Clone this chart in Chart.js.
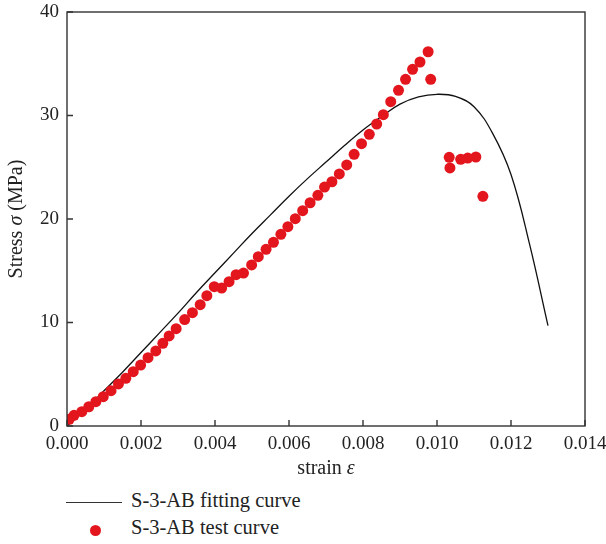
<!DOCTYPE html>
<html lang="en">
<head>
<meta charset="UTF-8" />
<title>S-3-AB stress-strain</title>
<style>
  body{margin:0;background:#fff;font-family:"Liberation Serif",serif}
  #wrap{position:relative;width:606px;height:544px}
  #cv{position:absolute;left:0;top:0}
  .leg{position:absolute;left:131px;font-size:20.5px;color:#222;line-height:normal;white-space:nowrap}
  .ln{position:absolute;left:66px;top:502px;width:56px;border-top:1.4px solid #333}
  .dot{position:absolute;left:89.5px;top:524.5px;width:11px;height:11px;border-radius:50%;background:#e3161e}
</style>
<script src="https://cdn.jsdelivr.net/npm/chart.js"></script>
</head>
<body>
<div id="wrap">
  <canvas id="cv" width="606" height="482"></canvas>
  <div class="ln"></div><div class="leg" style="top:489px">S-3-AB fitting curve</div>
  <div class="dot"></div><div class="leg" style="top:516px">S-3-AB test curve</div>
</div>
<script>
// test points (strain, stress MPa)
const testStrain=[0.00006,0.00019,0.00040,0.00059,0.00078,0.00098,0.00119,0.00139,0.00159,0.00179,
  0.00199,0.00219,0.00240,0.00259,0.00276,0.00295,0.00318,0.00339,0.00360,0.00378,
  0.00398,0.00418,0.00438,0.00457,0.00477,0.00499,0.00517,0.00538,0.00558,0.00578,
  0.00597,0.00617,0.00637,0.00657,0.00678,0.00696,0.00716,0.00736,0.00756,0.00776,
  0.00796,0.00817,0.00837,0.00855,0.00875,0.00896,0.00915,0.00934,0.00954,0.00976,
  0.00983,0.01033,0.01035,0.01064,0.01083,0.01105,0.01124];
const testStress=[0.65,1.03,1.38,1.86,2.35,2.83,3.41,4.06,4.61,5.25,
  5.89,6.60,7.25,7.99,8.70,9.40,10.28,10.95,11.72,12.59,
  13.46,13.33,13.94,14.62,14.78,15.56,16.36,17.07,17.75,18.52,
  19.26,20.03,20.80,21.57,22.29,23.09,23.60,24.35,25.22,26.25,
  27.28,28.18,29.18,30.08,31.33,32.43,33.50,34.46,35.17,36.16,
  33.50,25.96,24.93,25.77,25.89,25.99,22.19];
// fitting curve
const fitStrain=[0,0.0005,0.001,0.0015,0.002,0.0025,0.003,0.0035,0.004,0.0045,0.005,0.0055,
  0.006,0.0065,0.007,0.0075,0.008,0.0085,0.009,0.0095,0.010,0.0105,0.011,0.0115,0.012,0.0125,0.013];
const fitStress=[0,1.6,3.4,5.2,7.1,9.0,10.9,12.9,14.8,16.7,18.6,20.4,
  22.2,23.9,25.5,27.1,28.6,29.9,31.1,31.8,32.05,31.85,30.85,28.3,24.3,17.6,9.7];
const xTicks=[0,0.002,0.004,0.006,0.008,0.010,0.012,0.014];
const yTicks=[0,10,20,30,40];

const pts=(xs,ys)=>xs.map((v,i)=>({x:v,y:ys[i]}));
const axisCol='#333';
const serif='"Liberation Serif", serif';

function mixed(ctx,parts,cx,cy){
  let w=0;
  parts.forEach(p=>{ctx.font=(p[1]?'italic ':'')+'20px '+serif;w+=ctx.measureText(p[0]).width;});
  let x0=cx-w/2;
  parts.forEach(p=>{ctx.font=(p[1]?'italic ':'')+'20px '+serif;ctx.fillText(p[0],x0,cy);x0+=ctx.measureText(p[0]).width;});
}

const frame={id:'frame',afterDraw(c){
  const {ctx,chartArea:a,scales:{x,y}}=c;
  ctx.save();ctx.strokeStyle=axisCol;ctx.lineWidth=1.4;
  ctx.strokeRect(a.left,a.top,a.right-a.left,a.bottom-a.top);
  ctx.beginPath();
  xTicks.forEach(v=>{const p=x.getPixelForValue(v);ctx.moveTo(p,a.bottom);ctx.lineTo(p,a.bottom-6);});
  yTicks.forEach(v=>{const p=y.getPixelForValue(v);ctx.moveTo(a.left,p);ctx.lineTo(a.left+6,p);});
  ctx.stroke();
  // axis titles with italic symbols
  ctx.fillStyle='#222';ctx.textBaseline='middle';ctx.textAlign='left';
  mixed(ctx,[['strain ',0],['ε',1]],(a.left+a.right)/2,469);
  ctx.translate(17,(a.top+a.bottom)/2);ctx.rotate(-Math.PI/2);
  mixed(ctx,[['Stress ',0],['σ',1],[' (MPa)',0]],0,0);
  ctx.restore();
}};

const tickFont={family:serif,size:19};
new Chart(document.getElementById('cv'),{
  type:'scatter',
  data:{datasets:[
    {type:'line',label:'S-3-AB fitting curve',data:pts(fitStrain,fitStress),borderColor:'#111',borderWidth:1.3,
     pointRadius:0,tension:0.4,fill:false,order:2},
    {label:'S-3-AB test curve',data:pts(testStrain,testStress),backgroundColor:'#e3161e',borderWidth:0,
     pointRadius:5.5,order:1}
  ]},
  options:{
    responsive:false,animation:false,
    layout:{padding:0},
    plugins:{legend:{display:false},tooltip:{enabled:false}},
    scales:{
      x:{type:'linear',min:0,max:0.014,
        afterBuildTicks:s=>{s.ticks=xTicks.map(v=>({value:v}));},
        afterFit:s=>{s.height=56;s.paddingLeft=0;s.paddingRight=21;},
        ticks:{font:tickFont,color:'#222',padding:7,maxRotation:0,callback:v=>v.toFixed(3)},
        grid:{display:false,drawTicks:false},border:{display:false},
        title:{display:false}},
      y:{min:0,max:40,
        afterBuildTicks:s=>{s.ticks=yTicks.map(v=>({value:v}));},
        afterFit:s=>{s.width=67;s.paddingTop=12;s.paddingBottom=0;},
        ticks:{font:tickFont,color:'#222',padding:8},
        grid:{display:false,drawTicks:false},border:{display:false},
        title:{display:false}}
    }
  },
  plugins:[frame]
});
</script>
</body>
</html>
